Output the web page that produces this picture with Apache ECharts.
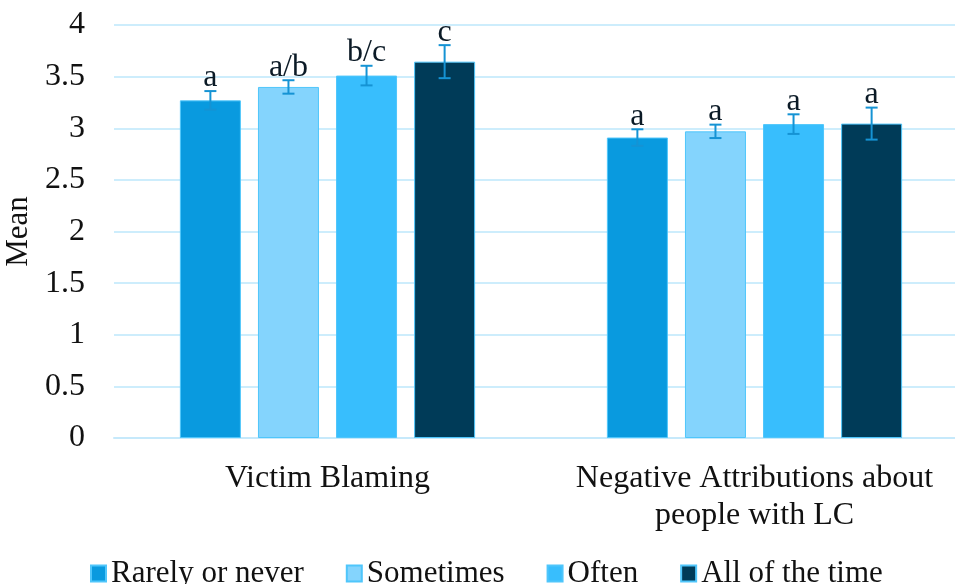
<!DOCTYPE html>
<html>
<head>
<meta charset="utf-8">
<script src="https://cdn.jsdelivr.net/npm/echarts@6/dist/echarts.min.js"></script>
<style>html,body{margin:0;padding:0;background:#fff;overflow:hidden;width:955px;height:584px;}#chart{width:975px;height:584px;}</style>
</head>
<body>
<div id="chart"></div>
<script>
const categories = ['Victim Blaming', 'Negative Attributions about\npeople with LC'];
const seriesNames = ['Rarely or never', 'Sometimes', 'Often', 'All of the time'];
const rarelyValues = [3.27, 2.91];
const sometimesValues = [3.40, 2.97];
const oftenValues = [3.51, 3.04];
const allTimeValues = [3.645, 3.045];
const rarelyErrors = [0.09, 0.08];
const sometimesErrors = [0.065, 0.065];
const oftenErrors = [0.095, 0.095];
const allTimeErrors = [0.16, 0.155];
const rarelyLetters = ['a', 'a'];
const sometimesLetters = ['a/b', 'a'];
const oftenLetters = ['b/c', 'a'];
const allTimeLetters = ['c', 'a'];
const yTicks = [0, 0.5, 1, 1.5, 2, 2.5, 3, 3.5, 4];

const colors = ['#099ADF', '#84D4FD', '#38BEFD', '#003B58'];
const valueSets = [rarelyValues, sometimesValues, oftenValues, allTimeValues];
const errorSets = [rarelyErrors, sometimesErrors, oftenErrors, allTimeErrors];
const letterSets = [rarelyLetters, sometimesLetters, oftenLetters, allTimeLetters];

const FONT = '"Liberation Serif", "DejaVu Serif", serif';
const BAR_W = 61;
const BAR_GAP = 0.28;
const N = seriesNames.length;

function barOffset(i) {
  const step = BAR_W * (1 + BAR_GAP);
  const total = N * BAR_W + (N - 1) * BAR_W * BAR_GAP;
  return -total / 2 + i * step + BAR_W / 2;
}

const series = [];
seriesNames.forEach((name, i) => {
  series.push({
    name: name,
    type: 'bar',
    barWidth: BAR_W,
    barGap: (BAR_GAP * 100) + '%',
    data: valueSets[i],
    itemStyle: { color: colors[i], borderColor: '#4fc6fb', borderWidth: 1 },
    z: 2
  });
});
seriesNames.forEach((name, i) => {
  series.push({
    type: 'custom',
    name: name + ' err',
    z: 5,
    silent: true,
    data: valueSets[i].map((v, c) => [c, v, errorSets[i][c]]),
    renderItem: function (params, api) {
      const c = api.value(0);
      const v = api.value(1);
      const e = api.value(2);
      const letter = letterSets[i][c];
      const top = api.coord([c, v + e]);
      const bot = api.coord([c, v - e]);
      const x = top[0] + barOffset(i);
      const cap = 6;
      const st = { stroke: '#1593D4', lineWidth: 2 };
      return {
        type: 'group',
        children: [
          { type: 'line', shape: { x1: x, y1: top[1], x2: x, y2: bot[1] }, style: st },
          { type: 'line', shape: { x1: x - cap, y1: top[1], x2: x + cap, y2: top[1] }, style: st },
          { type: 'line', shape: { x1: x - cap, y1: bot[1], x2: x + cap, y2: bot[1] }, style: st },
          { type: 'text', style: { text: letter, x: x, y: top[1] + 3, align: 'center', verticalAlign: 'bottom', fontFamily: FONT, fontSize: 32, fill: '#0b1a26' } }
        ]
      };
    }
  });
});

const chart = echarts.init(document.getElementById('chart'), null, { renderer: 'canvas' });
chart.setOption({
  animation: false,
  backgroundColor: '#ffffff',
  color: colors,
  grid: { left: 114, top: 25, height: 413, width: 854, containLabel: false, outerBoundsMode: 'none' },
  legend: {
    data: seriesNames,
    left: 85,
    top: 553,
    itemWidth: 15,
    itemHeight: 16,
    itemGap: 42,
    icon: 'rect',
    textStyle: { fontFamily: FONT, fontSize: 31, color: '#111' }
  },
  xAxis: {
    type: 'category',
    data: categories,
    axisTick: { show: false },
    axisLine: { lineStyle: { color: '#c6e9fb', width: 2 } },
    axisLabel: { fontFamily: FONT, fontSize: 32, color: '#111', margin: 22, lineHeight: 37, interval: 0 }
  },
  yAxis: {
    type: 'value',
    min: 0,
    max: 4,
    interval: 0.5,
    name: 'Mean',
    nameLocation: 'middle',
    nameGap: 73,
    nameTextStyle: { fontFamily: FONT, fontSize: 31, color: '#111' },
    axisLine: { show: false },
    axisTick: { show: false },
    axisLabel: { fontFamily: FONT, fontSize: 32, color: '#111', margin: 29, formatter: v => yTicks.indexOf(v) >= 0 ? String(v) : '' },
    splitLine: { lineStyle: { color: '#cdedfc', width: 2 } }
  },
  series: series
});
</script>
</body>
</html>
